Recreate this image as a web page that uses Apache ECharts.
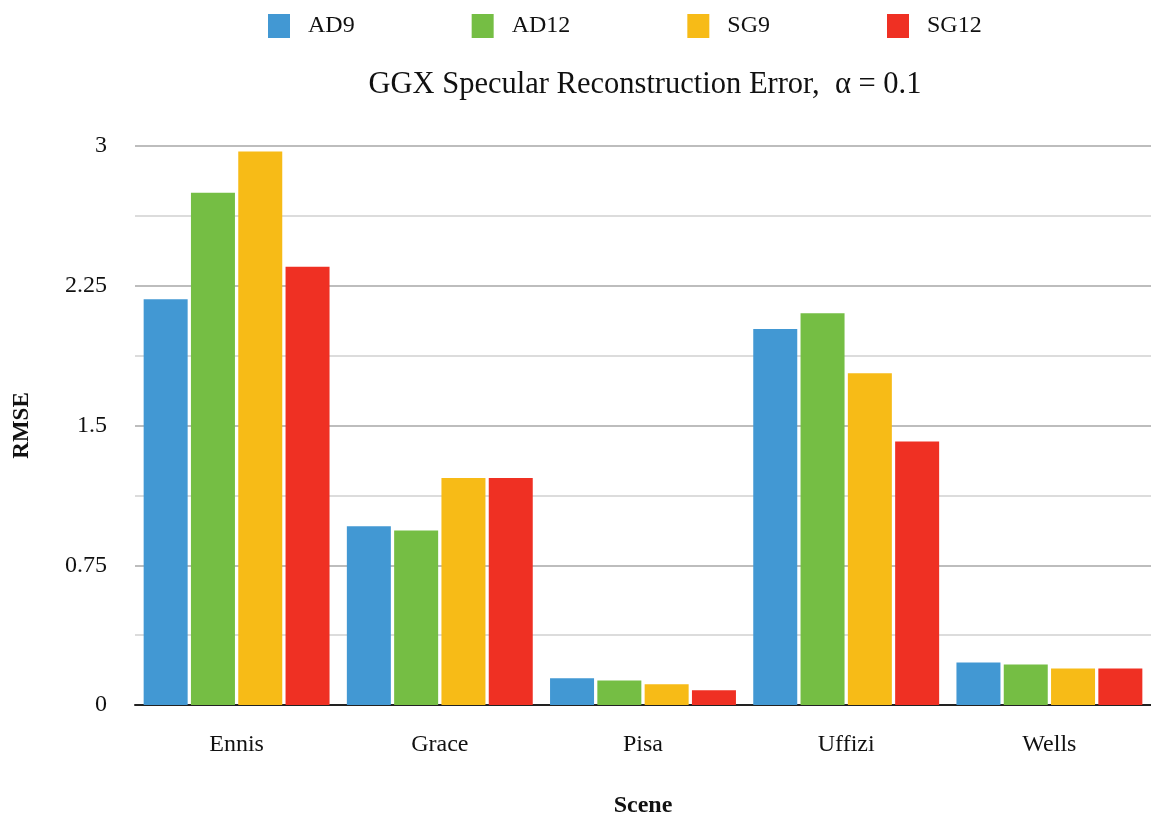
<!DOCTYPE html>
<html>
<head>
<meta charset="utf-8">
<script src="https://cdn.jsdelivr.net/npm/echarts@6/dist/echarts.min.js"></script>
<style>html,body{margin:0;padding:0;background:#fff}#c{width:1151px;height:823px}</style>
</head>
<body>
<div id="c"></div>
<script>
const categories = ['Ennis', 'Grace', 'Pisa', 'Uffizi', 'Wells'];
const seriesNames = ['AD9', 'AD12', 'SG9', 'SG12'];
const AD9  = [2.177, 0.959, 0.143, 2.018, 0.228];
const AD12 = [2.749, 0.937, 0.132, 2.103, 0.217];
const SG9  = [2.971, 1.218, 0.111, 1.780, 0.196];
const SG12 = [2.352, 1.218, 0.079, 1.414, 0.196];
const seriesValues = [AD9, AD12, SG9, SG12];
const colors = ['#4298d3', '#75be44', '#f7bb17', '#ef3023'];
const titleText = 'GGX Specular Reconstruction Error,  \u03b1 = 0.1';

const FONT = '"Liberation Serif", "DejaVu Serif", serif';
const chart = echarts.init(document.getElementById('c'));
chart.setOption({
  animation: false,
  color: colors,
  textStyle: { fontFamily: FONT },
  title: {
    text: titleText, left: 640, textAlign: 'center', top: 64,
    textStyle: { fontFamily: FONT, fontSize: 30.5, fontWeight: 'normal', color: '#111' }
  },
  legend: {
    data: seriesNames, top: 9, left: 263,
    itemWidth: 22, itemHeight: 24, itemGap: 117,
    icon: 'rect',
    textStyle: { fontFamily: FONT, fontSize: 24, color: '#111', padding: [0, 0, 0, 13] }
  },
  grid: { left: 135, right: 0, top: 146, height: 566, containLabel: false },
  xAxis: {
    type: 'category', data: categories,
    name: 'Scene', nameLocation: 'middle', nameGap: 89,
    nameTextStyle: { fontFamily: FONT, fontSize: 24, fontWeight: 'bold', color: '#111' },
    axisLine: { lineStyle: { color: '#222', width: 2 } },
    axisTick: { show: false },
    axisLabel: { fontFamily: FONT, fontSize: 24, color: '#111', margin: 28 }
  },
  yAxis: {
    type: 'value', min: 0, max: 3, interval: 0.375,
    name: 'RMSE', nameLocation: 'middle', nameGap: 101,
    nameTextStyle: { fontFamily: FONT, fontSize: 23, fontWeight: 'bold', color: '#111' },
    axisLine: { show: false }, axisTick: { show: false },
    axisLabel: {
      fontFamily: FONT, fontSize: 24, color: '#111', margin: 28,
      formatter: v => (Math.abs(v / 0.75 - Math.round(v / 0.75)) < 1e-6 ? String(+v.toFixed(2)) : '')
    },
    splitLine: { lineStyle: { color: ['#bdbdbd', '#dcdcdc'], width: 2 } }
  },
  series: seriesNames.map((n, i) => ({
    name: n, type: 'bar', data: seriesValues[i],
    barWidth: 44, barGap: '7.5%'
  }))
});
</script>
</body>
</html>
